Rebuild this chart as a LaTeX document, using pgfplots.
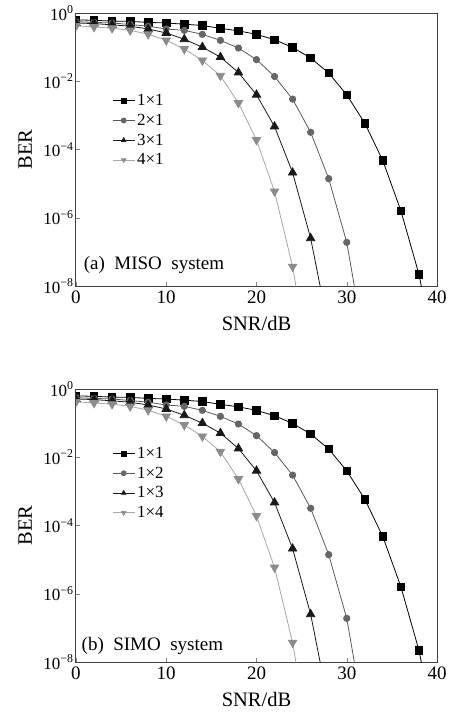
\documentclass[border=0pt]{standalone}
\usepackage{fontspec}
\setmainfont{Liberation Serif}
\usepackage{pgfplots}
\usepackage{pgfplotstable}
\pgfplotsset{compat=1.18}

% BER; last row of each table lies below the axis and only carries the line to the bottom edge
\pgfplotstableread{
x y
0 0.63
2 0.61
4 0.58
6 0.57
8 0.53
10 0.51
12 0.47
14 0.43
16 0.355
18 0.30
20 0.237
22 0.165
24 0.098
26 0.048
28 0.0174
30 0.004
32 5.9e-4
34 4.7e-5
36 1.6e-6
38 2.2e-8
39 1e-9
}\serone
\pgfplotstableread{
x y
0 0.56
2 0.53
4 0.51
6 0.46
8 0.41
10 0.34
12 0.31
14 0.237
16 0.158
18 0.094
20 0.043
22 0.0138
24 0.003
26 3.2e-4
28 1.4e-5
30 1.9e-7
31.5 1e-9
}\sertwo
\pgfplotstableread{
x y
0 0.51
2 0.49
4 0.45
6 0.41
8 0.34
10 0.26
12 0.17
14 0.10
16 0.051
18 0.018
20 0.004
22 4.7e-4
24 2.1e-5
26 2.5e-7
27.8 1e-9
}\serthree
\pgfplotstableread{
x y
0 0.42
2 0.39
4 0.36
6 0.31
8 0.24
10 0.158
12 0.088
14 0.041
16 0.0145
18 0.0023
20 1.9e-4
22 5.9e-6
24 3.7e-8
25 1e-9
}\serfour

\pgfplotsset{
  every axis/.append style={
    scale only axis,
    width=361pt, height=273pt,
    xmin=0, xmax=40, ymin=1e-8, ymax=1,
    xtick={0,10,20,30,40},
    xticklabels={0,10,20,30,40},
    ytick={1,1e-2,1e-4,1e-6,1e-8},
    yticklabels={10\textsuperscript{0},10\textsuperscript{−2},10\textsuperscript{−4},10\textsuperscript{−6},10\textsuperscript{−8}},
    tick align=inside,
    xtick pos=bottom, ytick pos=left,
    major tick length=4pt,
    axis line style={black!75, line width=1pt},
    clip marker paths=true,
    xticklabel style={font=\fontsize{19}{22}\selectfont, yshift=-1pt},
    yticklabel style={font=\fontsize{17}{20}\selectfont, xshift=1pt},
    legend cell align=left,
    legend style={draw=none, fill=none, font=\fontsize{17}{20}\selectfont, row sep=3pt, inner sep=0pt},
    legend image post style={mark size=2.5pt},
  },
  every axis x label/.style={at={(rel axis cs:0.5,-0.137)}, anchor=center, font=\fontsize{20.5}{22}\selectfont},
  every axis y label/.style={at={(rel axis cs:-0.141,0.5)}, rotate=90, anchor=center, font=\fontsize{20.5}{22}\selectfont},
  legend image code/.code={\draw[mark repeat=2,mark phase=2,#1] plot coordinates {(0pt,0pt)(11pt,0pt)(22pt,0pt)};},
}

\begin{document}
\begin{tikzpicture}
\useasboundingbox (-76pt,-426pt) rectangle (378pt,286pt);
\begin{semilogyaxis}[xlabel={SNR/dB}, ylabel={BER},
  legend style={at={(rel axis cs:0.10,0.71)}, anchor=north west}]
\addplot[black, line width=0.8pt, mark=square*, mark size=3.8pt, mark options={solid, fill=black}] table {\serone};
\addplot[black!65, line width=0.8pt, mark=*, mark size=3.2pt, mark options={solid, fill=black!60, draw=black!60}] table {\sertwo};
\addplot[black!90, line width=0.8pt, mark=triangle*, mark size=4.8pt, mark options={solid, fill=black!90}] table {\serthree};
\addplot[black!35, line width=0.8pt, mark=triangle*, mark size=4.8pt, mark options={solid, rotate=180, fill=black!45, draw=black!45}] table {\serfour};
\legend{1×1,2×1,3×1,4×1}
\node[anchor=west, font=\fontsize{19}{20}\selectfont] at (rel axis cs:0.012,0.077) {(a)\ \ MISO\ \ system};
\end{semilogyaxis}
\begin{semilogyaxis}[at={(0,-376pt)}, xlabel={SNR/dB}, ylabel={BER},
  legend style={at={(rel axis cs:0.10,0.795)}, anchor=north west}]
\addplot[black, line width=0.8pt, mark=square*, mark size=3.8pt, mark options={solid, fill=black}] table {\serone};
\addplot[black!65, line width=0.8pt, mark=*, mark size=3.2pt, mark options={solid, fill=black!60, draw=black!60}] table {\sertwo};
\addplot[black!90, line width=0.8pt, mark=triangle*, mark size=4.8pt, mark options={solid, fill=black!90}] table {\serthree};
\addplot[black!35, line width=0.8pt, mark=triangle*, mark size=4.8pt, mark options={solid, rotate=180, fill=black!45, draw=black!45}] table {\serfour};
\legend{1×1,1×2,1×3,1×4}
\node[anchor=west, font=\fontsize{19}{20}\selectfont] at (rel axis cs:0.006,0.058) {(b)\ \ SIMO\ \ system};
\end{semilogyaxis}
\end{tikzpicture}
\end{document}
